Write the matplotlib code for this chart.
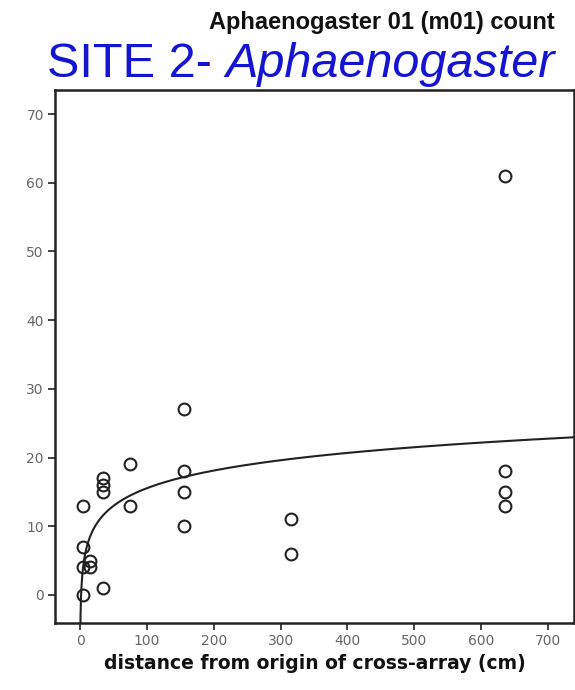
import numpy as np
import matplotlib
matplotlib.use("Agg")
import matplotlib.pyplot as plt

# distance from origin (cm) and Aphaenogaster counts
distance_cm = [5, 5, 5, 5, 15, 15, 35, 35, 35, 35,
               75, 75, 155, 155, 155, 155, 315, 315, 635, 635, 635, 635]
count = [0, 4, 7, 13, 4, 5, 1, 15, 16, 17,
         13, 19, 10, 15, 18, 27, 6, 11, 13, 15, 18, 61]

x_ticks = [0, 100, 200, 300, 400, 500, 600, 700]
y_ticks = [0, 10, 20, 30, 40, 50, 60, 70]

x = np.array(distance_cm, dtype=float)
y = np.array(count, dtype=float)

# logarithmic fit  y = a + b*ln(x)
b, a = np.polyfit(np.log(x), y, 1)

fig = plt.figure(figsize=(5.75, 6.9), dpi=100)
ax = fig.add_axes([0.0957, 0.097, 0.9983 - 0.0957, 0.8696 - 0.097])

xs = np.linspace(0.3, 740, 2000)
ax.plot(xs, a + b * np.log(xs), color="#222222", lw=1.5, zorder=2)
ax.plot(x, y, linestyle="none", marker="o", ms=8.5, mfc="none",
        mec="#222222", mew=1.5, zorder=3)

ax.set_xlim(-37.5, 739)
ax.set_ylim(-4.1, 73.5)
ax.set_xticks(x_ticks)
ax.set_yticks(y_ticks)

for s in ax.spines.values():
    s.set_linewidth(1.8)
    s.set_color("#222222")
ax.tick_params(direction="out", length=5, width=1.3, color="#333333",
               labelsize=10, labelcolor="#666666", pad=3)
for lab in ax.get_xticklabels() + ax.get_yticklabels():
    lab.set_family("DejaVu Sans")

ax.set_xlabel("distance from origin of cross-array (cm)", fontsize=13.5,
              fontweight="bold", family="DejaVu Sans", labelpad=4,
              color="#111111")

fig.text(555 / 575, 1 - 29 / 690, "Aphaenogaster 01 (m01) count",
         ha="right", va="baseline", fontsize=17, fontweight="bold",
         family="Liberation Sans", color="#111111")

# blue title in two parts: upright "SITE 2- " and italic genus name
blue = "#1414d2"
t2 = fig.text(555 / 575, 1 - 77 / 690, "Aphaenogaster", ha="right",
              va="baseline", fontsize=35, style="italic",
              family="Liberation Sans", color=blue)
fig.canvas.draw()
bb = t2.get_window_extent()
fig.text(bb.x0 / fig.bbox.width, 1 - 77 / 690, "SITE 2- ", ha="right",
         va="baseline", fontsize=35, family="Liberation Sans", color=blue)

fig.savefig("out.png", dpi=100)
